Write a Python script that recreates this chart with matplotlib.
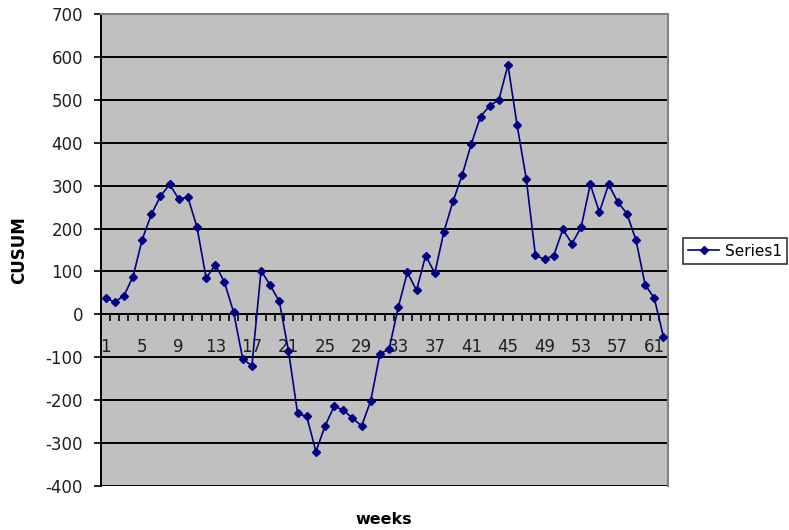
import matplotlib.pyplot as plt
from matplotlib.ticker import MultipleLocator, FixedLocator

plt.rcParams['axes.unicode_minus'] = False

# CUSUM per week
weeks = list(range(1, 63))
cusum = [38, 29, 43, 88, 174, 233, 275, 303, 269, 273,
         203, 84, 116, 75, 5, -104, -120, 102, 68, 30,
         -85, -231, -238, -320, -260, -214, -223, -242, -260, -201,
         -92, -81, 16, 98, 56, 137, 96, 193, 264, 325,
         398, 461, 486, 500, 581, 441, 316, 138, 128, 137,
         198, 165, 203, 303, 238, 303, 262, 235, 173, 69,
         38, -52]
label_weeks = list(range(1, 63, 4))
yticks = list(range(-400, 701, 100))

fig = plt.figure(figsize=(7.89, 5.30), dpi=100)
ax = fig.add_axes([101 / 789, 1 - 486 / 530, 567 / 789, 472 / 530])
ax.set_facecolor('#c0c0c0')

ax.plot(weeks, cusum, color='#000080', lw=1.2, marker='D', markersize=4.5,
        label='Series1', zorder=3)

ax.set_xlim(0.5, 62.5)
ax.set_ylim(-400, 700)
ax.set_yticks(yticks)
ax.set_axisbelow(True)
ax.grid(axis='y', color='black', lw=1.4)
ax.yaxis.get_gridlines()[-1].set_visible(False)

# category axis crossing at zero, tick marks between categories
ax.spines['bottom'].set_position(('data', 0))
ax.spines['bottom'].set_linewidth(1.4)
ax.spines['left'].set_linewidth(1.4)
for s in ['top', 'right']:
    ax.spines[s].set_color('#808080')
    ax.spines[s].set_linewidth(1.5)

ax.xaxis.set_major_locator(FixedLocator(label_weeks))
ax.xaxis.set_minor_locator(MultipleLocator(1, offset=0.5))
ax.set_xticklabels([str(w) for w in label_weeks])
ax.tick_params(axis='x', which='major', length=0, pad=17, labelsize=12,
               labelcolor='#202020')
ax.tick_params(axis='x', which='minor', length=5, width=1.2, direction='out')
ax.tick_params(axis='y', length=5, width=1.2, pad=8, labelsize=12,
               labelcolor='#202020')

fig.text(19 / 789, 1 - 250 / 530, 'CUSUM', rotation=90, fontsize=12,
         fontweight='bold', ha='center', va='center')
fig.text(384 / 789, 1 - 519 / 530, 'weeks', fontsize=11.5,
         fontweight='bold', ha='center', va='center')

leg = fig.legend(loc='center left', bbox_to_anchor=(683 / 789, 1 - 251 / 530),
                 fontsize=11, frameon=True, fancybox=False, borderaxespad=0,
                 handlelength=2.0, handletextpad=0.4, borderpad=0.35)
leg.get_frame().set_edgecolor('black')
leg.get_frame().set_linewidth(1.2)

fig.savefig('out.png', dpi=100)
